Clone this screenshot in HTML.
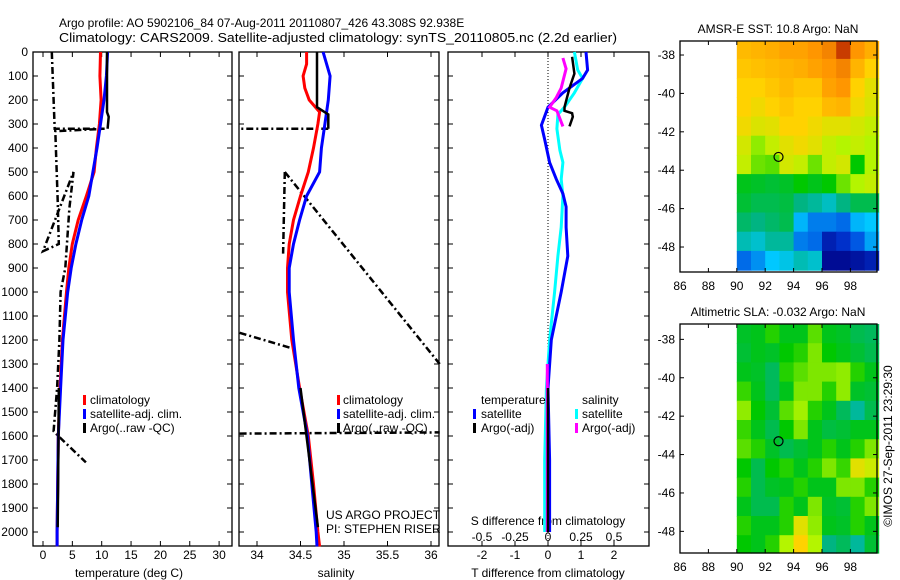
<!DOCTYPE html>
<html><head><meta charset="utf-8"><style>
body{margin:0;background:#fff;}
svg{display:block;font-family:"Liberation Sans",sans-serif;}
text{font-size:12px;fill:#000;}
</style></head><body>
<svg id="fig" width="900" height="580" viewBox="0 0 900 580" xmlns="http://www.w3.org/2000/svg">
<text x="59" y="27" style="font-size:12px">Argo profile: AO 5902106_84 07-Aug-2011 20110807_426 43.308S 92.938E</text>
<text x="59" y="42" style="font-size:13px" textLength="558" lengthAdjust="spacingAndGlyphs">Climatology: CARS2009. Satellite-adjusted climatology: synTS_20110805.nc (2.2d earlier)</text>
<g id="g"></g>
</svg>
<script>
// ---- data ----
const depthTicks=[0,100,200,300,400,500,600,700,800,900,1000,1100,1200,1300,1400,1500,1600,1700,1800,1900,2000];
const tTicks=[0,5,10,15,20,25,30];
const sTicks=[34,34.5,35,35.5,36];
const dTicks=[-2,-1,0,1,2];
const sdTicks=[-0.5,-0.25,0,0.25,0.5];
const tempClimDepth=[0,100,200,300,400,500,600,700,800,900,1000,1200,1400,1600,1800,2000,2060];
const tempClim=[9.8,9.7,9.9,9.6,9.1,8.7,7.4,6.0,5.0,4.4,4.0,3.3,2.9,2.6,2.5,2.4,2.4];
const tempSat=[11.0,10.8,10.4,9.8,9.2,8.5,7.8,6.6,5.6,4.8,4.2,3.4,3.0,2.6,2.5,2.4,2.4];
const tempArgoSolid=[[10.9,0],[10.9,250],[11.2,270],[11.0,320],[null,null],[2.7,1400],[2.6,1700],[2.5,1980]];
const tempArgoRaw=[[1.5,0],[2.0,320],[10.5,320],[2.1,330],[2.5,620],[2.7,800],[0.0,830],[5.2,500],[4.5,650],[3.8,900],[3.0,1000],[2.8,1200],[2.4,1400],[1.8,1580],[2.6,1600],[7.3,1710]];
const salClimDepth=[0,50,100,150,200,250,300,400,500,600,700,800,900,1000,1200,1400,1600,1800,2000,2060];
const salClim=[34.57,34.57,34.53,34.55,34.6,34.72,34.7,34.65,34.59,34.5,34.42,34.37,34.35,34.35,34.4,34.49,34.59,34.65,34.7,34.72];
const salSat=[34.76,34.8,34.84,34.83,34.82,34.8,34.78,34.74,34.72,34.57,34.49,34.42,34.37,34.37,34.42,34.48,34.58,34.63,34.68,34.69];
const salArgoSolid=[[34.69,0],[34.69,230],[34.82,260],[34.82,320],[null,null],[34.5,1400],[34.7,1980]];
const salArgoRaw=[[34.82,320],[33.8,320],[null,null],[34.32,500],[34.3,840],[null,null],[34.32,500],[36.1,1300],[null,null],[33.8,1170],[34.45,1240],[null,null],[33.8,1590],[36.1,1585]];
const dTempSat=[[1.15,0],[1.2,75],[1.05,110],[0.45,170],[0,230],[-0.2,305],[-0.1,365],[0.05,460],[0.25,530],[0.45,590],[0.55,645],[0.55,730],[0.6,850],[0.4,1000],[0.1,1200],[0.0,1400],[0.05,1700],[0.05,2000]];
const dSalSat=[[0.8,0],[0.9,75],[1.05,110],[0.8,170],[0.5,230],[0.3,260],[0.27,320],[0.36,410],[0.45,460],[0.4,530],[0.45,600],[0.4,730],[0.3,850],[0.2,1000],[0.05,1200],[-0.05,1400],[-0.1,1700],[-0.1,2000]];
const dTempArgo=[[0.73,20],[0.8,90],[0.65,150],[0.5,230],[0.5,245],[0.73,255],[0.75,270],[0.65,310],[null,null],[0.0,1400],[0.0,2000]];
const dSalArgo=[[0.45,25],[0.55,70],[0.4,150],[0.25,190],[0.05,230],[0.27,245],[0.45,310],[null,null],[-0.02,1300],[-0.02,2000]];
const sstGrid=[
[.74,.75,.76,.78,.78,.8,.82,.9,.8,.76],
[.72,.73,.74,.75,.76,.78,.8,.82,.75,.7],
[.7,.7,.72,.74,.72,.72,.78,.8,.7,.66],
[.7,.68,.7,.72,.7,.7,.74,.75,.68,.65],
[.68,.65,.66,.7,.7,.68,.66,.66,.64,.62],
[.64,.58,.62,.66,.68,.66,.62,.6,.62,.6],
[.62,.56,.55,.64,.62,.56,.62,.64,.5,.6],
[.48,.47,.46,.47,.5,.48,.5,.56,.6,.62],
[.46,.44,.44,.45,.4,.38,.35,.4,.44,.44],
[.42,.4,.42,.44,.28,.22,.22,.2,.28,.3],
[.36,.34,.38,.38,.22,.2,.08,.12,.18,.26],
[.2,.24,.3,.32,.36,.34,.03,.03,.05,.08]];
const slaGrid=[
[.47,.48,.52,.48,.48,.55,.48,.47,.44,.43],
[.46,.48,.47,.5,.52,.57,.5,.48,.46,.44],
[.48,.47,.43,.52,.55,.57,.57,.58,.52,.48],
[.53,.48,.43,.48,.57,.57,.52,.58,.47,.46],
[.58,.5,.46,.55,.59,.52,.48,.43,.38,.44],
[.53,.48,.44,.5,.57,.48,.45,.46,.48,.48],
[.55,.52,.47,.44,.46,.48,.52,.48,.52,.57],
[.5,.44,.5,.52,.48,.52,.57,.53,.66,.63],
[.52,.44,.47,.48,.52,.48,.48,.57,.57,.52],
[.48,.44,.44,.52,.48,.57,.47,.46,.52,.57],
[.52,.48,.48,.52,.66,.58,.48,.47,.52,.48],
[.5,.48,.52,.6,.7,.6,.4,.43,.38,.46]];
const lonTicks=[86,88,90,92,94,96,98];
const latTicks=[-38,-40,-42,-44,-46,-48];

// ---- helpers ----
const NS="http://www.w3.org/2000/svg";
const G=document.getElementById('g');
function mk(tag,attrs,parent){const e=document.createElementNS(NS,tag);for(const k in attrs)e.setAttribute(k,attrs[k]);(parent||G).appendChild(e);return e;}
function txt(x,y,s,anchor,name){const t=mk('text',{x:x,y:y,'text-anchor':anchor||'start'});t.textContent=s;


return t;}
const yD=d=>52+d*0.24;
const PB=546;
const xT=v=>43+v*5.87;
const xS=v=>257+(v-34)*87;
const xDf=v=>548+v*33;
const xSd=v=>548+v*132;
function pathFrom(pts,fx){let s='',pen=false;for(const p of pts){if(p[0]===null){pen=false;continue;}s+=(pen?'L':'M')+fx(p[0]).toFixed(1)+','+yD(p[1]).toFixed(1);pen=true;}return s;}
function line(pts,fx,color,w,dash,name){const p=mk('path',{d:pathFrom(pts,fx),fill:'none',stroke:color,'stroke-width':w,'stroke-dasharray':dash||'none'});


return p;}
function zip(vals,deps){return vals.map((v,i)=>[v,deps[i]]);}
function frame(x0,x1,name){const r=mk('rect',{x:x0,y:52,width:x1-x0,height:PB-52,fill:'none',stroke:'#000','stroke-width':1.3});


for(const d of depthTicks){mk('line',{x1:x0,x2:x0+5,y1:yD(d),y2:yD(d),stroke:'#000'});mk('line',{x1:x1-5,x2:x1,y1:yD(d),y2:yD(d),stroke:'#000'});}}
function xticks(vals,fx,y,name,fmt){for(const v of vals){const x=fx(v);mk('line',{x1:x,x2:x,y1:PB,y2:PB-5,stroke:'#000'});mk('line',{x1:x,x2:x,y1:52,y2:57,stroke:'#000'});txt(x,y,fmt?fmt(v):String(v),'middle',name);}}

// ---- panel 1: temperature ----
frame(33,232,'temperature-panel');
for(const d of depthTicks) txt(28,yD(d)+4,String(d),'end','depth-tick-label');
xticks(tTicks,xT,559,'temperature-tick-label');
txt(129,577,'temperature (deg C)','middle','temperature-axis-title');
line(tempArgoRaw,xT,'#000',2.5,'7 3 2 3','temp-argo-raw-line');
line(zip(tempClim,tempClimDepth),xT,'#f00',3,null,'temp-climatology-line');
line(zip(tempSat,tempClimDepth),xT,'#00f',3,null,'temp-satellite-line');
line(tempArgoSolid,xT,'#000',2.5,null,'temp-argo-line');
const leg1=[['#f00','climatology'],['#00f','satellite-adj. clim.'],['#000','Argo(..raw -QC)']];
leg1.forEach((l,i)=>{mk('rect',{x:83,y:395+i*14,width:3,height:10,fill:l[0]});txt(90,404+i*14,l[1],'start','temp-legend-entry');});

// ---- panel 2: salinity ----
frame(239,439,'salinity-panel');
xticks(sTicks,xS,559,'salinity-tick-label');
txt(336,577,'salinity','middle','salinity-axis-title');
line(salArgoRaw,xS,'#000',2.5,'7 3 2 3','sal-argo-raw-line');
line(zip(salClim,salClimDepth),xS,'#f00',3,null,'sal-climatology-line');
line(zip(salSat,salClimDepth),xS,'#00f',3,null,'sal-satellite-line');
line(salArgoSolid,xS,'#000',2.5,null,'sal-argo-line');
leg1.forEach((l,i)=>{mk('rect',{x:337,y:395+i*14,width:3,height:10,fill:l[0]});txt(343,404+i*14,l[1],'start','sal-legend-entry');});
txt(326,519,'US ARGO PROJECT','start','project-label');
txt(326,533,'PI: STEPHEN RISER','start','pi-label');

// ---- panel 3: differences ----
frame(448,649,'difference-panel');
mk('line',{x1:548,x2:548,y1:52,y2:PB,stroke:'#000','stroke-dasharray':'1 2'});
xticks(dTicks,xDf,559,'t-diff-tick-label');
for(const v of sdTicks) txt(xSd(v),541,String(v),'middle','s-diff-tick-label');
txt(548,525,'S difference from climatology','middle','s-diff-axis-title');
txt(548,577,'T difference from climatology','middle','t-diff-axis-title');
line(dSalSat,xDf,'#0ff',3,null,'salinity-satellite-diff-line');
line(dTempSat,xDf,'#00f',3,null,'temperature-satellite-diff-line');
line(dSalArgo,xDf,'#f0f',3,null,'salinity-argo-diff-line');
line(dTempArgo,xDf,'#000',2.5,null,'temperature-argo-diff-line');
txt(481,404,'temperature','start','legend-temperature-heading');
txt(582,404,'salinity','start','legend-salinity-heading');
[['#00f','satellite',473,481],['#000','Argo(-adj)',473,481],['#0ff','satellite',575,582],['#f0f','Argo(-adj)',575,582]].forEach((l,i)=>{const r=i%2;mk('rect',{x:l[2],y:409+r*14,width:3,height:10,fill:l[0]});txt(l[3],418+r*14,l[1],'start','diff-legend-entry');});

// ---- maps ----
const stops=[[0,[0,0,130]],[.15,[0,60,220]],[.3,[0,200,255]],[.4,[0,180,130]],[.5,[0,200,0]],[.6,[180,245,0]],[.7,[255,210,0]],[.8,[255,150,0]],[.9,[200,60,0]],[1,[150,0,0]]];
function cmap(v){for(let i=1;i<stops.length;i++){if(v<=stops[i][0]){const a=stops[i-1],b=stops[i],f=(v-a[0])/(b[0]-a[0]);return 'rgb('+a[1].map((c,k)=>Math.round(c+(b[1][k]-c)*f)).join(',')+')';}}return 'rgb(150,0,0)';}
function drawMap(grid,top,bot,lat0,title,name){
 const xL=lon=>680+(lon-86)*14.2;
 const yL=lat=>top+(lat0-lat)*19.2;
 grid.forEach((row,r)=>row.forEach((v,c)=>{const x=xL(90+c),y=yL(-37.2-r);const cell=mk('rect',{x:x.toFixed(1),y:Math.max(top,y).toFixed(1),width:14.6,height:(Math.min(bot,yL(-38.2-r))-Math.max(top,y)+0.6).toFixed(1),fill:cmap(v)});
 
 }));
 const b=mk('rect',{x:680,y:top,width:197,height:bot-top,fill:'none',stroke:'#000','stroke-width':1.3});
 
 
 for(const l of lonTicks){const x=xL(l);mk('line',{x1:x,x2:x,y1:bot,y2:bot-4,stroke:'#000'});mk('line',{x1:x,x2:x,y1:top,y2:top+4,stroke:'#000'});txt(x,bot+18,String(l),'middle',name+'-lon-label');}
 for(const l of latTicks){const y=yL(l);if(y<top||y>bot)continue;mk('line',{x1:680,x2:684,y1:y,y2:y,stroke:'#000'});mk('line',{x1:873,x2:877,y1:y,y2:y,stroke:'#000'});txt(675,y+4,String(l),'end',name+'-lat-label');}
 const c=mk('circle',{cx:xL(92.938),cy:yL(-43.308),r:4.5,fill:'none',stroke:'#000','stroke-width':1.2});
 
 
 txt(778,top-8,title,'middle',name+'-title');
}
drawMap(sstGrid,41,272,-37.27,'AMSR-E SST: 10.8 Argo: NaN','sst-map');
drawMap(slaGrid,324,553,-37.2,'Altimetric SLA: -0.032 Argo: NaN','sla-map');
const cr=txt(0,0,'\u00a9IMOS 27-Sep-2011 23:29:30','middle','timestamp-label');
cr.setAttribute('transform','translate(892,446) rotate(-90)');
</script>
</body></html>
